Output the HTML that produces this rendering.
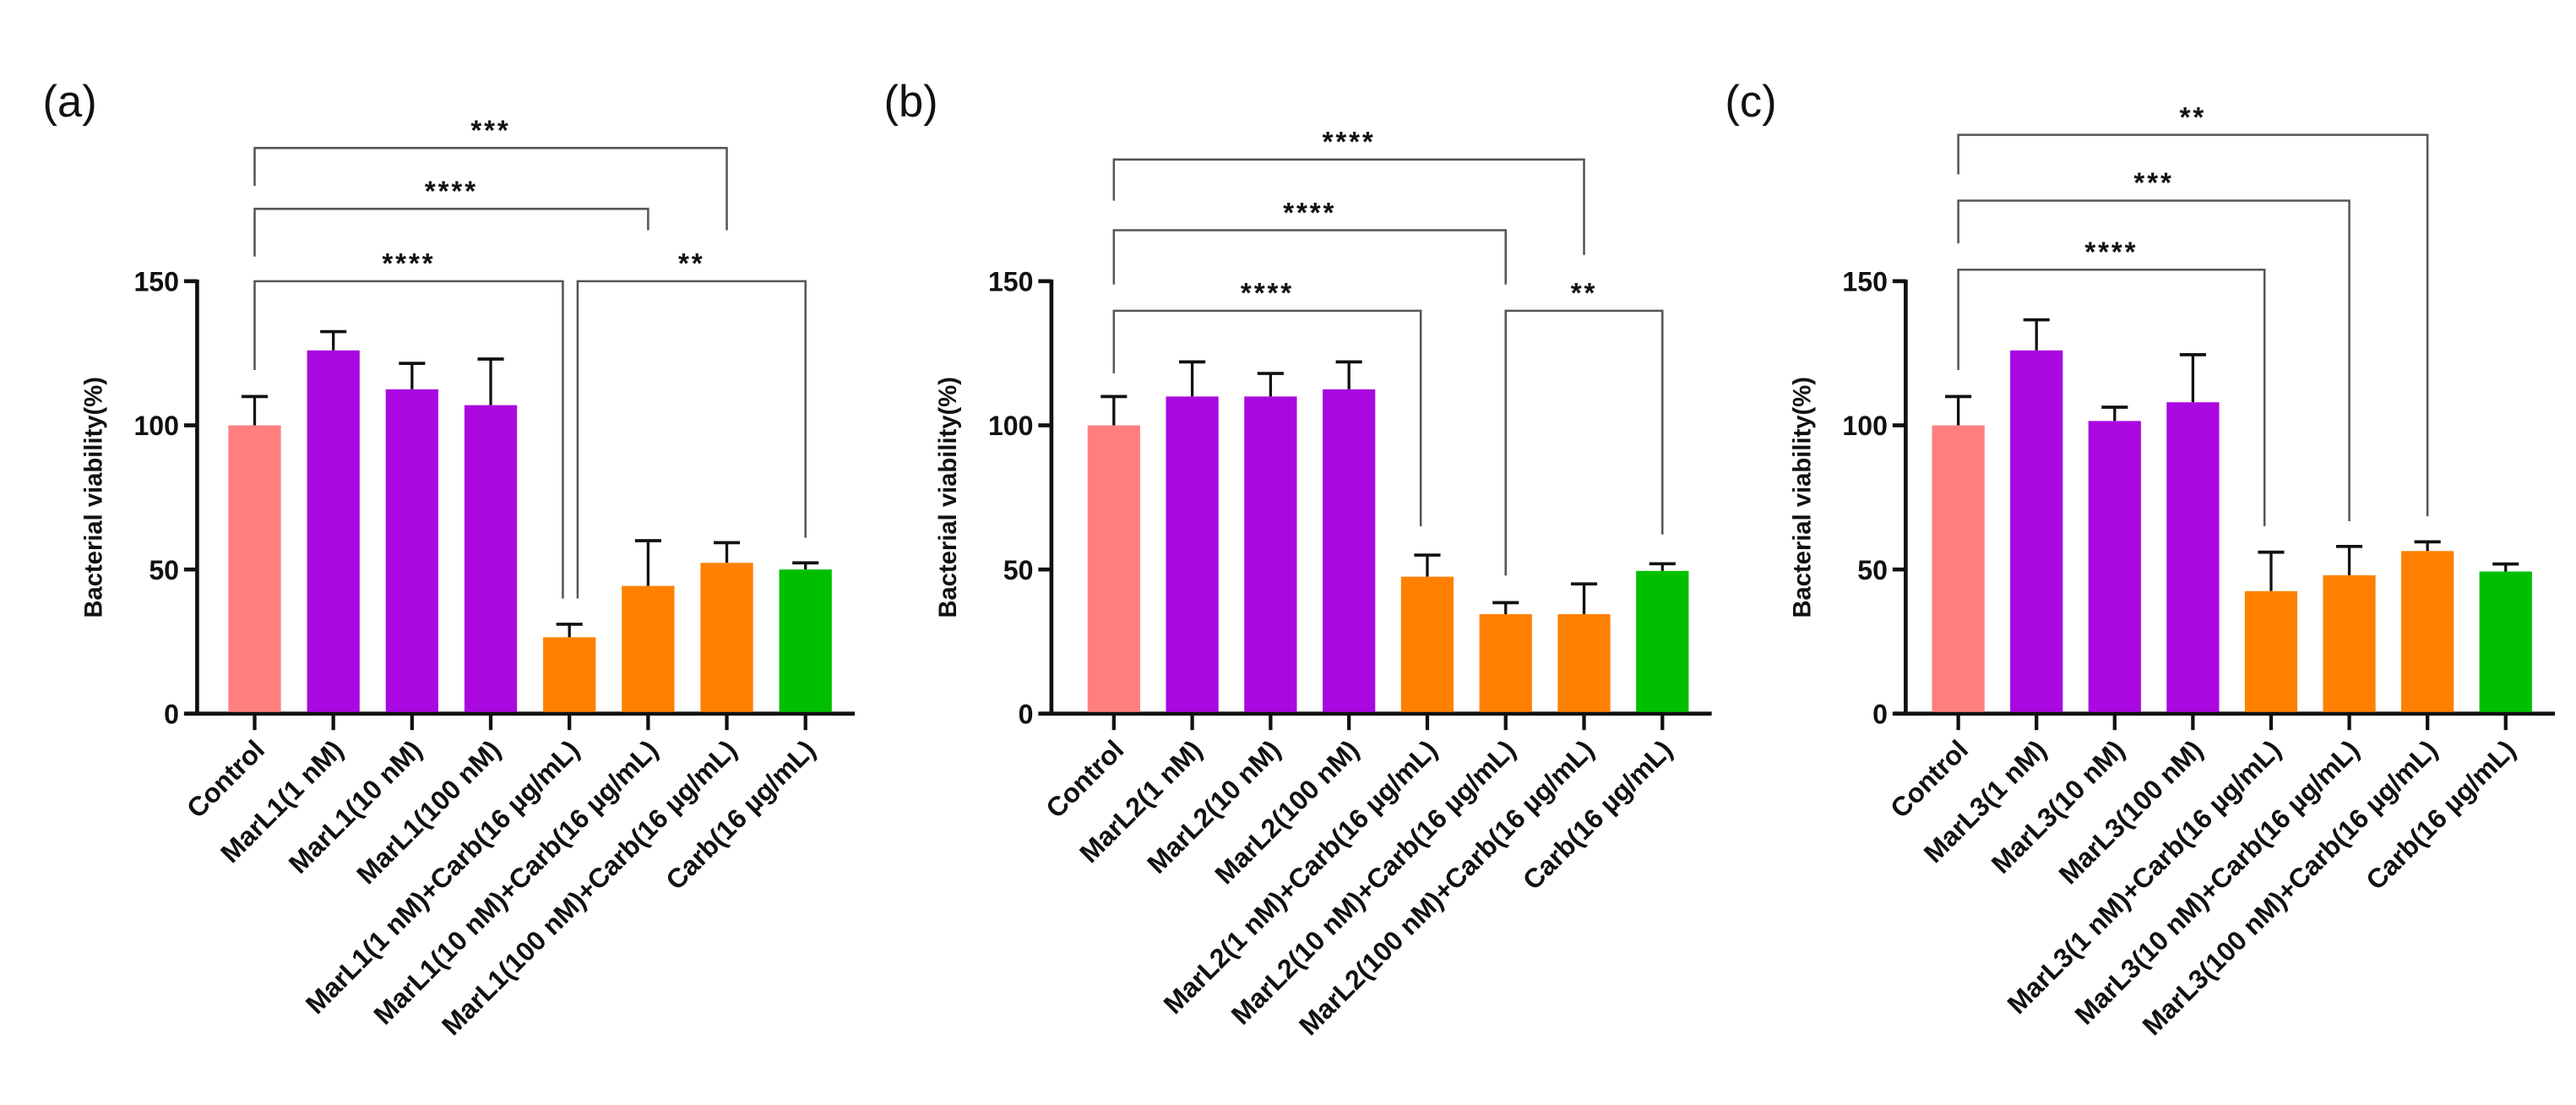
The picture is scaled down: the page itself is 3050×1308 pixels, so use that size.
<!DOCTYPE html>
<html><head><meta charset="utf-8"><style>
html,body{margin:0;padding:0;background:#fff;}
svg{display:block;}
text{font-family:"Liberation Sans",Arial,sans-serif;}
</style></head><body>
<svg id="fig" width="3050" height="1308" viewBox="0 0 1568 672" preserveAspectRatio="none" xmlns="http://www.w3.org/2000/svg"></svg>
<script>
const labelsA = ["Control","MarL1(1 nM)","MarL1(10 nM)","MarL1(100 nM)","MarL1(1 nM)+Carb(16 µg/mL)","MarL1(10 nM)+Carb(16 µg/mL)","MarL1(100 nM)+Carb(16 µg/mL)","Carb(16 µg/mL)"];
const labelsB = ["Control","MarL2(1 nM)","MarL2(10 nM)","MarL2(100 nM)","MarL2(1 nM)+Carb(16 µg/mL)","MarL2(10 nM)+Carb(16 µg/mL)","MarL2(100 nM)+Carb(16 µg/mL)","Carb(16 µg/mL)"];
const labelsC = ["Control","MarL3(1 nM)","MarL3(10 nM)","MarL3(100 nM)","MarL3(1 nM)+Carb(16 µg/mL)","MarL3(10 nM)+Carb(16 µg/mL)","MarL3(100 nM)+Carb(16 µg/mL)","Carb(16 µg/mL)"];
const valuesA = [100,126,112.5,107,26.5,44.3,52.3,50];
const errA = [110,132.5,121.5,123,31,60,59.3,52.3];
const valuesB = [100,110,110,112.5,47.5,34.5,34.5,49.5];
const errB = [110,122,118,122,55,38.5,45,52];
const valuesC = [100,126,101.5,108,42.5,48,56.4,49.3];
const errC = [110,136.6,106.3,124.5,56,58,59.6,51.9];
const yTicks = [0,50,100,150];
const colors = ["#ff7f7f","#aa08e0","#aa08e0","#aa08e0","#ff8000","#ff8000","#ff8000","#00bf00"];
// brackets: [fromIdx, toIdx, barY, leftEndY, rightEndY, stars]
const bracketsA = [[0,6,90,113,140,"***"],[0,5,127,156,140,"****"],[0,4,171,225,364,"****"],[4,7,171,364,327,"**"]];
const bracketsB = [[0,6,97,122,155,"****"],[0,5,140,173,173,"****"],[0,4,189,227,320,"****"],[5,7,189,350,325,"**"]];
const bracketsC = [[0,6,82,106,314,"**"],[0,5,122,148,317,"***"],[0,4,164,225,320,"****"]];

const NS="http://www.w3.org/2000/svg";
const svg=document.getElementById('fig');
function mk(tag,attrs,parent){const e=document.createElementNS(NS,tag);for(const k in attrs)e.setAttribute(k,attrs[k]);(parent||svg).appendChild(e);return e;}

function panel(letter,letterX,axisX,cx0,step,labels,vals,errs,brackets){
  const g=mk('g',{});
  
  
  const y0=434, k=263/150;
  const ys=v=>y0-v*k;
  const xs=i=>cx0+i*step;
  const axisEnd=xs(7)+30;
  const pl=mk('text',{x:letterX,y:71,'font-size':27,fill:'#111'},g);pl.textContent='('+letter+')';
  
  
  const ya=mk('line',{x1:axisX,y1:ys(150)-1,x2:axisX,y2:y0,stroke:'#111','stroke-width':2.4},g);
  
  
  const xa=mk('line',{x1:axisX-7,y1:y0,x2:axisEnd,y2:y0,stroke:'#111','stroke-width':2.4},g);
  
  
  yTicks.forEach(t=>{
    mk('line',{x1:axisX-8,y1:ys(t),x2:axisX,y2:ys(t),stroke:'#111','stroke-width':2.4},g);
    const tl=mk('text',{x:axisX-11,y:ys(t)+6,'font-size':16.5,'font-weight':'bold','text-anchor':'end',fill:'#111'},g);
    tl.textContent=t;
    
    
  });
  const yt=mk('text',{x:0,y:0,'font-size':15,'font-weight':'bold','text-anchor':'middle',fill:'#111',transform:`translate(${axisX-58},${ys(75)}) rotate(-90)`},g);
  yt.textContent='Bacterial viability(%)';
  
  
  vals.forEach((v,i)=>{
    const cx=xs(i);
    mk('line',{x1:cx,y1:ys(v),x2:cx,y2:ys(errs[i]),stroke:'#111','stroke-width':1.7},g);
    mk('line',{x1:cx-8,y1:ys(errs[i]),x2:cx+8,y2:ys(errs[i]),stroke:'#111','stroke-width':1.9},g);
    const b=mk('rect',{x:cx-16,y:ys(v),width:32,height:y0-ys(v)-1,fill:colors[i]},g);
    
    
    mk('line',{x1:cx,y1:y0,x2:cx,y2:y0+10,stroke:'#111','stroke-width':2.2},g);
    const tx=mk('text',{x:0,y:0,'font-size':16.5,'font-weight':'bold','text-anchor':'end',fill:'#111',transform:`translate(${cx+7},${y0+23}) rotate(-45)`},g);
    tx.textContent=labels[i];
    
    
  });
  brackets.forEach(br=>{
    let xl=xs(br[0]), xr=xs(br[1]);
    if(br[0]===4) xl+=5;
    if(br[1]===4) xr-=4;
    const p=mk('path',{d:`M${xl},${br[3]} L${xl},${br[2]} L${xr},${br[2]} L${xr},${br[4]}`,fill:'none',stroke:'#555','stroke-width':1.3},g);
    
    
    const s=mk('text',{x:(xl+xr)/2,y:br[2]-5,'font-size':17,'font-weight':'bold','text-anchor':'middle',fill:'#111','letter-spacing':'1.5'},g);
    s.textContent=br[5];
    
    
  });
}
panel('a',26,120,155,47.9,labelsA,valuesA,errA,bracketsA);
panel('b',538,640,678,47.7,labelsB,valuesB,errB,bracketsB);
panel('c',1050,1160,1192,47.6,labelsC,valuesC,errC,bracketsC);
</script>
</body></html>
